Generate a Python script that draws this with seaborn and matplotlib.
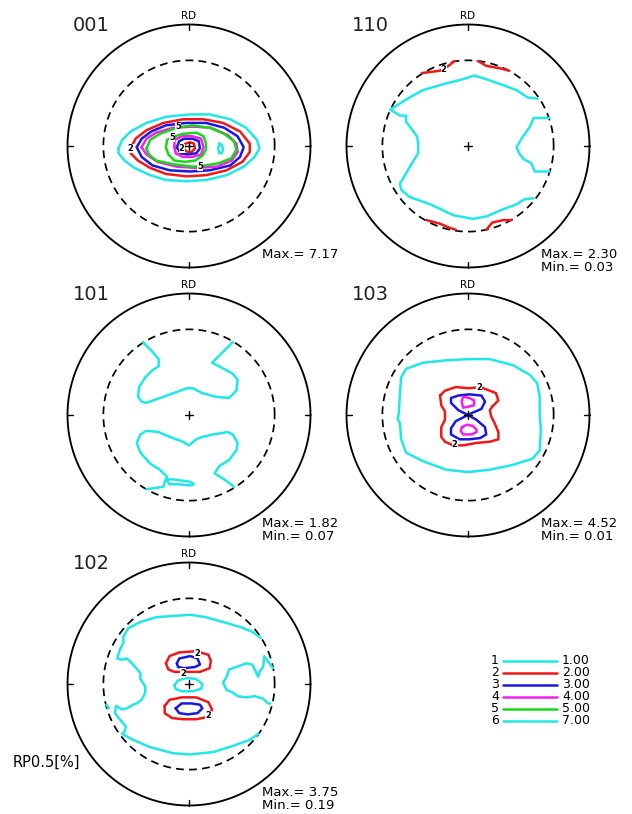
import numpy as np
import pandas as pd
import matplotlib
matplotlib.use("Agg")
import matplotlib.pyplot as plt
import seaborn as sns

sns.set_theme(style="white")
plt.rcParams["font.family"] = ["DejaVu Sans"]

# ---------------------------------------------------------------------------
# Pole figure data.  Contour paths are given in percent of the net radius,
# x to the right, y towards RD (up).  Each entry: (level, closed, points).
# ---------------------------------------------------------------------------
PANELS = ["001", "110", "101", "103", "102"]
MAX_VALUES = [7.17, 2.30, 1.82, 4.52, 3.75]
MIN_VALUES = [None, 0.03, 0.07, 0.01, 0.19]

LEVEL_IDS = [1, 2, 3, 4, 5, 6]
LEVEL_VALUES = [1.00, 2.00, 3.00, 4.00, 5.00, 7.00]
LEVEL_COLORS = ["#20E8E8", "#F01818", "#1818E0", "#F020F0", "#18D818", "#20E8E8"]

PF_001 = [
    (1.0, True, [(-58, -2), (-55, 5), (-48, 12), (-35, 19), (-19, 24), (1, 26), (17, 26),
                 (34, 22), (47, 15), (56, 5), (58, -2), (54, -9), (45, -17), (31, -24),
                 (14, -28), (-2, -29), (-19, -28), (-32, -24), (-45, -18), (-53, -12), (-58, -6)]),
    (2.0, True, [(-48, -2), (-44, 6), (-35, 13), (-21, 19), (-5, 22), (12, 22), (28, 19),
                 (42, 12), (50, 2), (50, -5), (44, -13), (31, -20), (14, -24), (-2, -25),
                 (-19, -23), (-32, -18), (-42, -12), (-48, -6)]),
    (3.0, True, [(-43, -1), (-39, 6), (-31, 12), (-19, 17), (-2, 19), (14, 19), (29, 15),
                 (40, 8), (45, -1), (42, -9), (34, -16), (17, -20), (1, -21), (-16, -20),
                 (-30, -16), (-39, -9)]),
    (4.0, True, [(-39, -1), (-35, 6), (-27, 11), (-13, 15), (3, 16), (18, 15), (32, 9),
                 (39, 2), (40, -5), (35, -12), (23, -17), (6, -18), (-10, -17), (-26, -13),
                 (-35, -7)]),
    (5.0, True, [(-35, -2), (-32, 5), (-24, 10), (-10, 15), (3, 17), (17, 15), (29, 10),
                 (37, 4), (39, -3), (35, -10), (25, -14), (14, -16), (3, -17), (-13, -15),
                 (-27, -12), (-33, -7)]),
    (5.0, True, [(-19, -1), (-18, 5), (-15, 7), (-5, 10), (6, 11), (12, 8), (14, 2),
                 (14, -3), (11, -8), (5, -12), (-3, -13), (-12, -12), (-17, -7)]),
    (4.0, True, [(-12, -1), (-12, 5), (-6, 8), (3, 8), (10, 6), (12, -1), (10, -7),
                 (3, -9), (-5, -9), (-11, -6)]),
    (3.0, True, [(-10, -1), (-8, 4), (-4, 6), (3, 6), (8, 4), (9, -2), (6, -6),
                 (-1, -7), (-7, -6)]),
    (2.0, True, [(-4, -1), (-3, 2), (1, 3), (4, 2), (5, -2), (2, -5), (-1, -5), (-4, -3)]),
    (7.0, True, [(25, 2), (27, 1), (28, -3), (27, -6), (25, -6), (24, -2)]),
]
LABELS_001 = [("2", -48, -2), ("5", -9, 16), ("5", -14, 7), ("5", 9, -17), ("2", -6, -2)]

PF_110 = [
    (1.0, False, [(57, 39), (49, 40), (40, 46), (29, 50), (15, 55), (5, 58), (-4, 55),
                  (-20, 51), (-37, 46), (-48, 40), (-64, 30), (-56, 25), (-51, 25), (-51, 20),
                  (-42, 8), (-41, 2), (-41, -6), (-46, -14), (-56, -31), (-55, -36), (-48, -42),
                  (-31, -48), (-12, -57), (4, -60), (15, -58), (29, -52), (40, -48), (46, -44),
                  (54, -43)]),
    (1.0, False, [(67, 23), (54, 23), (51, 16), (44, 6), (40, -1), (42, -6), (46, -11),
                  (52, -14), (55, -21), (67, -21)]),
    (2.0, False, [(-38, 60), (-23, 62), (-16, 66), (-11, 70)]),
    (2.0, False, [(8, 70), (15, 66), (26, 64), (34, 62)]),
    (2.0, False, [(-34, -61), (-23, -64), (-16, -67), (-10, -69)]),
    (2.0, False, [(15, -69), (20, -63), (29, -61), (36, -61)]),
]
LABELS_110 = [("2", -20, 63)]

PF_101 = [
    (1.0, False, [(-38, 60), (-31, 53), (-25, 46), (-25, 40), (-30, 37), (-36, 31), (-41, 23),
                  (-42, 15), (-39, 11), (-35, 10), (-21, 15), (-10, 19), (-2, 22), (3, 22),
                  (11, 18), (22, 15), (33, 14), (39, 20), (40, 29), (36, 34), (25, 40),
                  (19, 43), (22, 46), (31, 55), (36, 60)]),
    (1.0, False, [(37, -59), (29, -53), (21, -48), (25, -42), (33, -37), (39, -29), (40, -23),
                  (36, -16), (32, -14), (20, -16), (11, -18), (6, -20), (0, -25), (-5, -22),
                  (-16, -18), (-25, -14), (-35, -13), (-40, -16), (-43, -23), (-40, -31),
                  (-32, -40), (-24, -45), (-18, -51), (-20, -55), (-21, -59), (-27, -60),
                  (-35, -61)]),
    (1.0, True, [(-19, -53), (-16, -57), (-8, -57), (1, -58), (4, -57), (1, -55), (-6, -54),
                 (-13, -53)]),
]
LABELS_101 = []

PF_103 = [
    (1.0, True, [(0, 46), (-18, 45), (-37, 43), (-51, 38), (-55, 31), (-56, 18), (-57, 1),
                 (-58, -3), (-56, -7), (-55, -20), (-51, -31), (-37, -38), (-18, -45),
                 (0, -47), (18, -45), (37, -41), (53, -36), (59, -29), (60, -12), (59, 1),
                 (59, 15), (57, 26), (51, 33), (37, 41), (18, 46)]),
    (2.0, True, [(-23, 16), (-19, 20), (-10, 23), (1, 22), (10, 23), (18, 20), (23, 18),
                 (25, 12), (20, 7), (18, 4), (19, -1), (22, -7), (25, -14), (25, -20),
                 (18, -22), (7, -23), (-4, -25), (-12, -25), (-19, -22), (-22, -18),
                 (-22, -10), (-19, -4), (-19, 3), (-22, 8)]),
    (3.0, False, [(0, 0), (-8, 4), (-14, 10), (-14, 14), (-8, 16), (1, 17), (11, 16), (14, 11),
                  (11, 5), (4, 2), (0, 0), (7, -4), (14, -10), (15, -16), (10, -19), (1, -20),
                  (-7, -20), (-14, -16), (-14, -11), (-10, -5), (0, 0)]),
    (4.0, True, [(-5, 12), (-4, 15), (1, 14), (5, 12), (5, 8), (1, 7), (-4, 6), (-5, 10)]),
    (4.0, True, [(-5, -10), (-1, -8), (4, -9), (7, -12), (7, -14), (3, -16), (-4, -16),
                 (-6, -13)]),
]
LABELS_103 = [("2", 9, 23), ("2", -11, -24)]

PF_102 = [
    (1.0, False, [(59, 38), (52, 43), (42, 47), (28, 51), (14, 55), (1, 57), (-13, 56),
                  (-27, 55), (-40, 51), (-50, 46), (-54, 39), (-54, 34), (-57, 28), (-59, 21),
                  (-55, 20), (-51, 21), (-46, 16), (-40, 9), (-40, 4), (-36, -2), (-36, -7),
                  (-39, -13), (-43, -16), (-46, -17), (-51, -20), (-55, -21), (-60, -18),
                  (-61, -24), (-57, -29), (-52, -35), (-53, -39), (-55, -41), (-46, -46),
                  (-32, -52), (-13, -57), (1, -58), (20, -56), (36, -51), (50, -46),
                  (57, -41)]),
    (1.0, False, [(-68, -17), (-66, -20)]),
    (1.0, False, [(69, 13), (62, 23), (61, 14), (58, 10), (57, 6), (52, 16), (47, 17),
                  (39, 14), (33, 12), (31, 6), (28, 1), (31, -5), (36, -7), (40, -10),
                  (47, -11), (54, -10), (61, -12), (65, -16), (67, -16)]),
    (1.0, True, [(-12, -1), (-9, 3), (-2, 5), (6, 4), (11, 0), (10, -4), (3, -6), (-6, -6),
                 (-11, -4)]),
    (2.0, True, [(-19, 17), (-16, 23), (-8, 26), (6, 27), (16, 24), (18, 19), (17, 13),
                 (9, 10), (-2, 10), (-12, 10), (-17, 12)]),
    (3.0, True, [(-10, 17), (-8, 21), (1, 23), (7, 21), (9, 16), (5, 14), (-4, 13), (-9, 14)]),
    (2.0, True, [(-20, -18), (-16, -13), (-6, -11), (6, -11), (16, -15), (19, -21), (16, -27),
                 (6, -29), (-5, -29), (-14, -28), (-20, -24)]),
    (3.0, True, [(-11, -20), (-6, -16), (2, -16), (9, -17), (11, -20), (7, -24), (-1, -25),
                 (-8, -24)]),
]
LABELS_102 = [("2", 7, 25), ("2", -5, 9), ("2", 16, -26)]

PANEL_DATA = [PF_001, PF_110, PF_101, PF_103, PF_102]
PANEL_LABELS = [LABELS_001, LABELS_110, LABELS_101, LABELS_103, LABELS_102]

# ---------------------------------------------------------------------------
# Layout (pixels on a 632 x 814 canvas)
# ---------------------------------------------------------------------------
W, H = 632, 814
RADIUS_PX = 121.5
EXTENT = 1.12
CENTERS = [(189, 146), (468, 146), (189, 415), (468, 415), (189, 684)]
DASHED_R = 0.705

level_palette = {1.0: LEVEL_COLORS[0], 2.0: LEVEL_COLORS[1], 3.0: LEVEL_COLORS[2],
                 4.0: LEVEL_COLORS[3], 5.0: LEVEL_COLORS[4], 7.0: LEVEL_COLORS[5]}

fig = plt.figure(figsize=(W / 100, H / 100), dpi=100)
fig.patch.set_facecolor("white")

text_font = ["DejaVu Sans"]


def contour_frame(contours):
    rows = []
    for piece, (level, closed, pts) in enumerate(contours):
        pts = list(pts) + ([pts[0]] if closed else [])
        for order, (x, y) in enumerate(pts):
            rows.append({"x": x / 100.0, "y": y / 100.0, "level": level,
                         "piece": piece, "order": order})
    return pd.DataFrame(rows)


theta = np.linspace(0, 2 * np.pi, 721)
half_px = EXTENT * RADIUS_PX

for name, contours, labels, vmax, vmin, (cx, cy) in zip(
        PANELS, PANEL_DATA, PANEL_LABELS, MAX_VALUES, MIN_VALUES, CENTERS):
    ax = fig.add_axes([(cx - half_px) / W, (H - cy - half_px) / H,
                       2 * half_px / W, 2 * half_px / H])
    ax.set_xlim(-EXTENT, EXTENT)
    ax.set_ylim(-EXTENT, EXTENT)
    ax.axis("off")

    # net outline, dashed inner circle, inward axis ticks and centre mark
    ax.plot(np.cos(theta), np.sin(theta), color="black", lw=1.35, zorder=1)
    ax.plot(DASHED_R * np.cos(theta), DASHED_R * np.sin(theta), color="black",
            lw=1.25, linestyle=(0, (4.5, 3)), zorder=1)
    for ang in (0, 0.5 * np.pi, np.pi, 1.5 * np.pi):
        ax.plot([0.955 * np.cos(ang), 1.0 * np.cos(ang)],
                [0.955 * np.sin(ang), 1.0 * np.sin(ang)], color="black", lw=1.0)
    ax.plot([-0.03, 0.03], [0, 0], color="black", lw=1.0, zorder=4)
    ax.plot([0, 0], [-0.03, 0.03], color="black", lw=1.0, zorder=4)

    df = contour_frame(contours)
    sns.lineplot(data=df, x="x", y="y", hue="level", units="piece", estimator=None,
                 sort=False, palette=level_palette, legend=False, lw=1.8, ax=ax,
                 zorder=3)
    ax.axis("off")

    for txt, lx, ly in labels:
        ax.text(lx / 100.0, ly / 100.0, txt, fontsize=6, fontweight="bold",
                ha="center", va="center", color="black", zorder=5,
                bbox=dict(fc="white", ec="none", pad=0.1))

    ax.text(-0.955, 0.99, name, fontsize=14, ha="left", va="center",
            color="#222222", family=text_font)
    ax.text(0, 1.07, "RD", fontsize=7.5, ha="center", va="center",
            color="black", family=text_font)
    ax.text(0.60, -0.895, f"Max.= {vmax:.2f}", fontsize=9.5, ha="left", va="center",
            color="black", family=text_font)
    if vmin is not None:
        ax.text(0.60, -1.0, f"Min.= {vmin:.2f}", fontsize=9.5, ha="left", va="center",
                color="black", family=text_font)

# legend of contour levels and the smoothing note, on a full-canvas overlay
lax = fig.add_axes([0, 0, 1, 1], zorder=-1)
lax.set_xlim(0, W)
lax.set_ylim(H, 0)
lax.axis("off")
for i, (lid, val, col) in enumerate(zip(LEVEL_IDS, LEVEL_VALUES, LEVEL_COLORS)):
    yy = 661 + 12 * i
    lax.text(495, yy, str(lid), fontsize=9, ha="center", va="center", color="black")
    lax.plot([503, 557], [yy, yy], color=col, lw=1.8)
    lax.text(562, yy, f"{val:.2f}", fontsize=9, ha="left", va="center", color="black")

lax.text(13, 762, "RP0.5[%]", fontsize=10.5, ha="left", va="center", color="black")

fig.savefig("out.png", dpi=100, facecolor="white")
